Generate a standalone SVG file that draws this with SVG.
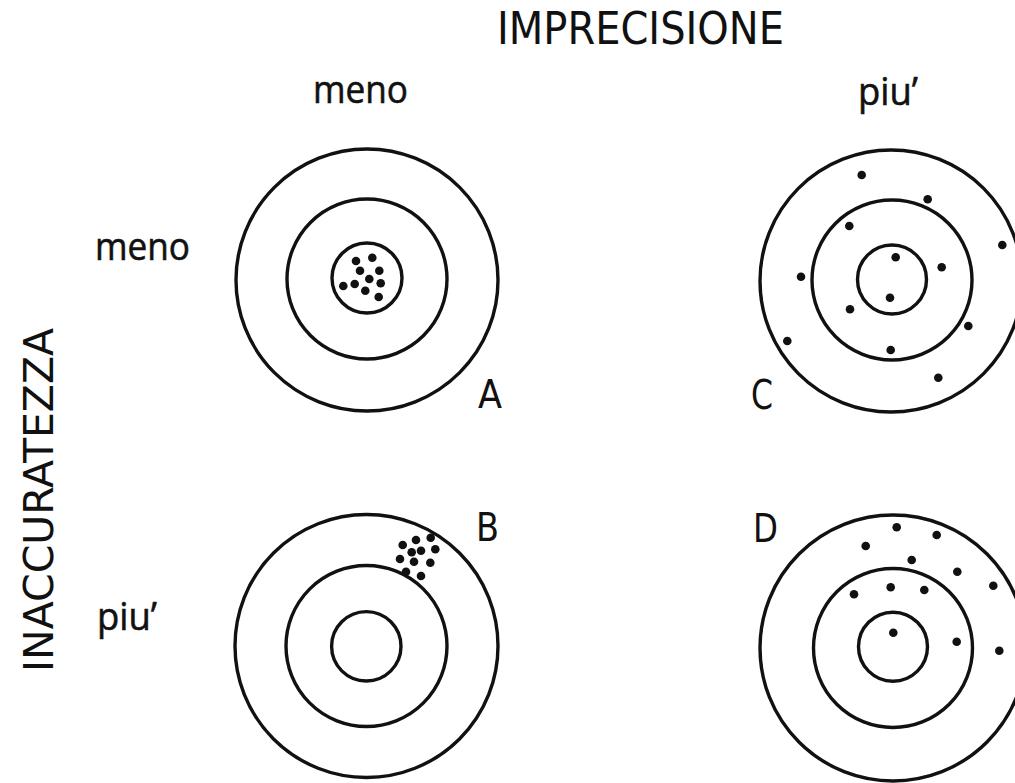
<svg xmlns="http://www.w3.org/2000/svg" width="1015" height="783" viewBox="0 0 1015 783">
<style>
.ring{fill:none;stroke:#111;stroke-width:3.4}
.dot{fill:#111}
.cap{font-family:"DejaVu Sans","Liberation Sans",sans-serif;fill:#111}
.low{font-family:"Open Sans","DejaVu Sans",sans-serif;fill:#111;stroke:#111;stroke-width:0.6}
</style>
<rect width="1015" height="783" fill="#fff"/>
<g id="titles">
<text class="cap" x="497" y="43.5" font-size="45" textLength="287" lengthAdjust="spacingAndGlyphs">IMPRECISIONE</text>
<text class="low" x="313" y="102.5" font-size="39" textLength="95" lengthAdjust="spacingAndGlyphs">meno</text>
<text class="low" x="858" y="105" font-size="39" textLength="60" lengthAdjust="spacingAndGlyphs">piu’</text>
<text class="low" x="95" y="260" font-size="39" textLength="95" lengthAdjust="spacingAndGlyphs">meno</text>
<text class="low" x="97" y="630" font-size="39" textLength="60" lengthAdjust="spacingAndGlyphs">piu’</text>
<text class="cap" transform="translate(53,500) rotate(-90)" x="0" y="0" font-size="41" text-anchor="middle" textLength="344" lengthAdjust="spacingAndGlyphs">INACCURATEZZA</text>
</g>
<g id="targetA">
<circle class="ring" cx="367" cy="280" r="131"/>
<circle class="ring" cx="367" cy="279" r="80"/>
<circle class="ring" cx="367" cy="278" r="35"/>
<circle class="dot" cx="356" cy="261" r="4.3"/>
<circle class="dot" cx="372.3" cy="257.7" r="4.3"/>
<circle class="dot" cx="360" cy="270.7" r="4.3"/>
<circle class="dot" cx="379.3" cy="270.7" r="4.3"/>
<circle class="dot" cx="369.3" cy="279" r="4.3"/>
<circle class="dot" cx="380.7" cy="283.3" r="4.3"/>
<circle class="dot" cx="354.7" cy="284" r="4.3"/>
<circle class="dot" cx="343.3" cy="286" r="4.3"/>
<circle class="dot" cx="365.3" cy="290.7" r="4.3"/>
<circle class="dot" cx="378.7" cy="297" r="4.3"/>
<text class="cap" x="478" y="408" font-size="39" textLength="24" lengthAdjust="spacingAndGlyphs">A</text>
</g>
<g id="targetC">
<circle class="ring" cx="891" cy="281" r="131"/>
<circle class="ring" cx="892" cy="280" r="80"/>
<circle class="ring" cx="892" cy="279.5" r="34.5"/>
<circle class="dot" cx="861.7" cy="175" r="4.3"/>
<circle class="dot" cx="927.7" cy="199.3" r="4.3"/>
<circle class="dot" cx="849.3" cy="226" r="4.3"/>
<circle class="dot" cx="1002.3" cy="245" r="4.3"/>
<circle class="dot" cx="895.7" cy="257.3" r="4.3"/>
<circle class="dot" cx="941.7" cy="267.3" r="4.3"/>
<circle class="dot" cx="801" cy="276.7" r="4.3"/>
<circle class="dot" cx="890" cy="297.7" r="4.3"/>
<circle class="dot" cx="850" cy="309.3" r="4.3"/>
<circle class="dot" cx="968.3" cy="326" r="4.3"/>
<circle class="dot" cx="787.3" cy="341" r="4.3"/>
<circle class="dot" cx="890.7" cy="350" r="4.3"/>
<circle class="dot" cx="938.3" cy="377.7" r="4.3"/>
<text class="cap" x="751" y="409" font-size="41" textLength="22" lengthAdjust="spacingAndGlyphs">C</text>
</g>
<g id="targetB">
<circle class="ring" cx="366.5" cy="646" r="131.5"/>
<circle class="ring" cx="366.5" cy="646" r="80.5"/>
<circle class="ring" cx="366.3" cy="646.3" r="34.7"/>
<circle class="dot" cx="402.7" cy="545" r="4.3"/>
<circle class="dot" cx="416" cy="540" r="4.3"/>
<circle class="dot" cx="430.7" cy="537.7" r="4.3"/>
<circle class="dot" cx="411.7" cy="552.3" r="4.3"/>
<circle class="dot" cx="421" cy="550.7" r="4.3"/>
<circle class="dot" cx="435.3" cy="549.3" r="4.3"/>
<circle class="dot" cx="400" cy="559" r="4.3"/>
<circle class="dot" cx="414" cy="561.7" r="4.3"/>
<circle class="dot" cx="430.3" cy="562.7" r="4.3"/>
<circle class="dot" cx="406" cy="571.7" r="4.3"/>
<circle class="dot" cx="421" cy="576" r="4.3"/>
<text class="cap" x="476" y="541" font-size="39" textLength="23" lengthAdjust="spacingAndGlyphs">B</text>
</g>
<g id="targetD">
<circle class="ring" cx="893" cy="648" r="133"/>
<circle class="ring" cx="893" cy="648" r="79.5"/>
<circle class="ring" cx="893" cy="646.7" r="34.5"/>
<circle class="dot" cx="896.7" cy="527.3" r="4.3"/>
<circle class="dot" cx="936.7" cy="535" r="4.3"/>
<circle class="dot" cx="865.7" cy="546" r="4.3"/>
<circle class="dot" cx="911.7" cy="560" r="4.3"/>
<circle class="dot" cx="957.3" cy="571.7" r="4.3"/>
<circle class="dot" cx="993.3" cy="585.7" r="4.3"/>
<circle class="dot" cx="854" cy="594.3" r="4.3"/>
<circle class="dot" cx="890.7" cy="587.3" r="4.3"/>
<circle class="dot" cx="924.3" cy="590" r="4.3"/>
<circle class="dot" cx="893.3" cy="632.7" r="4.3"/>
<circle class="dot" cx="956.7" cy="641.7" r="4.3"/>
<circle class="dot" cx="999.3" cy="650.7" r="4.3"/>
<text class="cap" x="753" y="542" font-size="39" textLength="25" lengthAdjust="spacingAndGlyphs">D</text>
</g>
</svg>
